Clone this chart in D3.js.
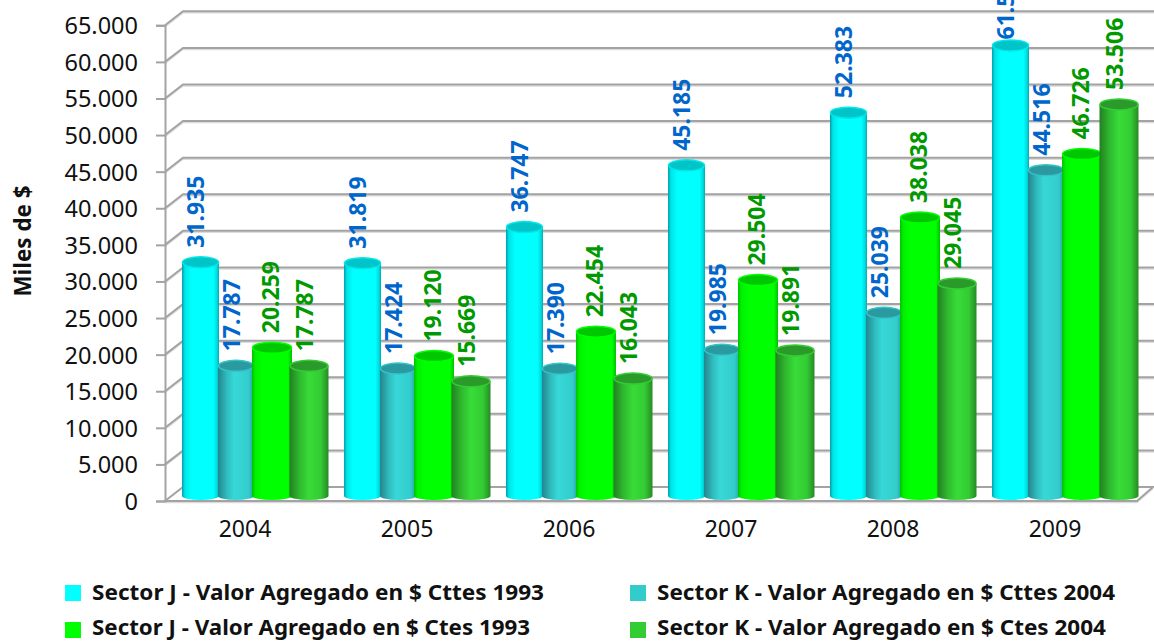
<!DOCTYPE html>
<html><head><meta charset="utf-8">
<script src="https://cdn.jsdelivr.net/npm/d3@7"></script>
<style>html,body{margin:0;padding:0;background:#fff;overflow:hidden}svg{display:block}text{font-family:"Noto Sans",sans-serif}</style>
</head><body><svg id="c" width="1154" height="641"></svg>
<script>
const years = ["2004","2005","2006","2007","2008","2009"];
const sectorJ1993Cttes = [31935,31819,36747,45185,52383,61560];
const sectorK2004Cttes = [17787,17424,17390,19985,25039,44516];
const sectorJ1993Ctes = [20259,19120,22454,29504,38038,46726];
const sectorK2004Ctes = [17787,15669,16043,19891,29045,53506];
const seriesNames = ["Sector J - Valor Agregado en $ Cttes 1993","Sector K - Valor Agregado en $ Cttes 2004","Sector J - Valor Agregado en $ Ctes 1993","Sector K - Valor Agregado en $ Ctes 2004"];
const seriesValues = [sectorJ1993Cttes,sectorK2004Cttes,sectorJ1993Ctes,sectorK2004Ctes];
const tickValues = d3.range(0,65001,5000);

const styles = [
 {swatch:"#00ffff",top:"#00c4c8",rim:"#00e8e8",label:"#0066cc",stops:[[0,"#00a0a8"],[.08,"#00e4e8"],[.25,"#00ffff"],[.85,"#00ffff"],[.95,"#00d8dc"],[1,"#00a8b0"]],w:37,cx:18.5,lx:14},
 {swatch:"#33cccc",top:"#2a9aa0",rim:"#33c4c8",label:"#0066cc",stops:[[0,"#24858c"],[.25,"#30bcc0"],[.45,"#38d8d8"],[.85,"#33cccc"],[1,"#2aa0a4"]],w:36,cx:54,lx:50},
 {swatch:"#00ff00",top:"#00c800",rim:"#00ff00",label:"#009900",stops:[[0,"#00c000"],[.08,"#00f000"],[.25,"#00ff00"],[.9,"#00ff00"],[1,"#00c000"]],w:40,cx:90,lx:89},
 {swatch:"#33cc33",top:"#2a9a2a",rim:"#33cc33",label:"#009900",stops:[[0,"#237f23"],[.25,"#2eb82e"],[.5,"#38dc38"],[.8,"#33cc33"],[1,"#268a26"]],w:39,cx:127,lx:123}
];

const svg = d3.select("#c");
const defs = svg.append("defs");
styles.forEach((s,i)=>{
  const g = defs.append("linearGradient").attr("id","g"+i).attr("x1","0").attr("x2","1").attr("y1","0").attr("y2","0");
  s.stops.forEach(p=>g.append("stop").attr("offset",p[0]).attr("stop-color",p[1]));
});

const dx = 18, dy = -14;
const left = 165, right = 1137, yZero = 501, yTop = 25.3;
const x = d3.scaleBand().domain(years).range([left,right]);
const y = d3.scaleLinear().domain([0,65000]).range([yZero,yTop]);
const baseShift = -5;
const es = d3.formatLocale({decimal:",",thousands:".",grouping:[3],currency:["$",""]});
const fmt = es.format(",d");
const grey = "#a3a3a3";

// walls
const grid = svg.append("g");
tickValues.forEach(v=>{
  if(v===0) return;
  grid.append("path").attr("d",`M${left},${y(v)+1.5}l${dx},${dy}H1154`).attr("fill","none").attr("stroke","#dcdcdc").attr("stroke-width",1.5);
  grid.append("path").attr("d",`M${left},${y(v)}l${dx},${dy}H1154`).attr("fill","none").attr("stroke",grey).attr("stroke-width",2);
});
// floor
grid.append("path").attr("d",`M${left},${yZero+1.5}H${right}l${dx-2},${dy}`).attr("fill","none").attr("stroke","#dcdcdc").attr("stroke-width",1.5);
grid.append("path").attr("d",`M${left},${yZero}l${dx},${dy}H${right+dx-2}L${right},${yZero}Z`).attr("fill","#fff").attr("stroke",grey).attr("stroke-width",2);

// axes
const axisY = svg.append("g").attr("transform",`translate(${left},0)`)
  .call(d3.axisLeft(y).tickValues(tickValues).tickFormat(fmt).tickSize(9).tickPadding(18));
axisY.selectAll("path,line").attr("stroke",grey).attr("stroke-width",2);
axisY.selectAll("text").attr("font-size",23.5).attr("fill","#111").attr("font-family",'"Noto Sans",sans-serif').attr("dy","0.36em");
const axisX = svg.append("g").attr("transform",`translate(0,${yZero})`)
  .call(d3.axisBottom(x).tickSize(0).tickPadding(20));
axisX.select("path").remove();
axisX.selectAll("text").attr("font-size",23).attr("fill","#111").attr("font-family",'"Noto Sans",sans-serif').attr("dx",-1);

// cylinders
years.forEach((yr,i)=>{
  const gx = x(yr)+17;
  seriesValues.forEach((vals,k)=>{
    const s = styles[k], v = vals[i];
    const x0 = gx+s.cx-s.w/2, x1 = x0+s.w, rx = s.w/2, ryTop = 5.5, ryBot = 4;
    const yt = y(v)+baseShift, yb = y(0)+baseShift;
    svg.append("path").attr("d",`M${x0},${yt}V${yb}A${rx},${ryBot} 0 0 0 ${x1},${yb}V${yt}Z`).attr("fill",`url(#g${k})`);
    svg.append("ellipse").attr("cx",x0+rx).attr("cy",yt).attr("rx",rx-.5).attr("ry",ryTop).attr("fill",s.top).attr("stroke",s.rim).attr("stroke-width",1.5);
  });
});
// value labels
years.forEach((yr,i)=>{
  const gx = x(yr)+17;
  seriesValues.forEach((vals,k)=>{
    const s = styles[k], v = vals[i];
    const ty = Math.max(y(v)+baseShift-14.5, 39.5);
    svg.append("text").attr("transform",`translate(${gx+s.lx+8},${ty}) rotate(-90)`)
      .attr("font-size",23).attr("font-weight",700).attr("fill",s.label).text(fmt(v));
  });
});

// axis title
svg.append("text").attr("transform","translate(31,241) rotate(-90)").attr("text-anchor","middle")
  .attr("font-size",22.4).attr("font-weight",700).attr("fill","#111").text("Miles de $");

// legend
const legendX = [[65,92],[630,657]], legendY = [[585,600],[622,635]], legendLen=[[452,458],[438,449]];
seriesNames.forEach((n,i)=>{
  const c = i%2, r = Math.floor(i/2);
  svg.append("rect").attr("x",legendX[c][0]).attr("y",legendY[r][0]).attr("width",16).attr("height",16).attr("fill",styles[i].swatch);
  svg.append("text").attr("x",legendX[c][1]).attr("y",legendY[r][1]).attr("font-size",22).attr("font-weight",700).attr("fill","#111")
    .attr("textLength",legendLen[r][c]).attr("lengthAdjust","spacingAndGlyphs").text(n);
});
</script></body></html>
